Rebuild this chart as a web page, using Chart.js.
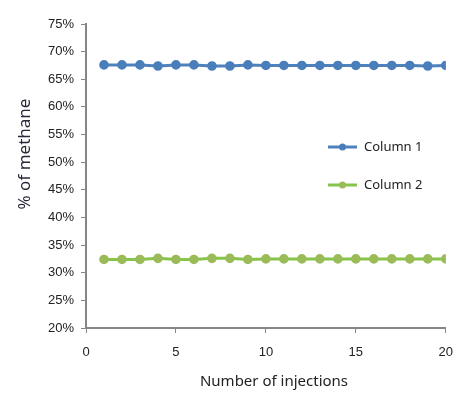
<!DOCTYPE html>
<html>
<head>
<meta charset="utf-8">
<script src="https://cdn.jsdelivr.net/npm/chart.js@4"></script>
<style>
  html, body { margin: 0; padding: 0; background: #fff; }
  #wrap { width: 465px; height: 393px; }
</style>
</head>
<body>
<div id="wrap"><canvas id="methaneChart"></canvas></div>
<script>
// DATA
const injections = [1,2,3,4,5,6,7,8,9,10,11,12,13,14,15,16,17,18,19,20];
const column1 = [67.6,67.6,67.6,67.4,67.6,67.6,67.4,67.4,67.6,67.5,67.5,67.5,67.5,67.5,67.5,67.5,67.5,67.5,67.4,67.5];
const column2 = [32.4,32.4,32.4,32.6,32.4,32.4,32.6,32.6,32.4,32.5,32.5,32.5,32.5,32.5,32.5,32.5,32.5,32.5,32.5,32.5];
const xTicks = [0,5,10,15,20];
const yTicks = [20,25,30,35,40,45,50,55,60,65,70,75];
const xTitle = 'Number of injections';
const yTitle = '% of methane';

const axisGray = '#868686';

// legend and axis titles drawn by hand, placed like the original
const extras = {
    id: 'extras',
    afterDraw(chart) {
        const c = chart.ctx;
        const rows = [147, 185];
        chart.data.datasets.forEach((ds, i) => {
            const y = rows[i];
            c.save();
            c.strokeStyle = ds.borderColor;
            c.lineWidth = 3;
            c.beginPath();
            c.moveTo(328, y);
            c.lineTo(357, y);
            c.stroke();
            c.fillStyle = ds.pointBackgroundColor;
            c.beginPath();
            c.arc(342.5, y, 3.5, 0, Math.PI * 2);
            c.fill();
            c.fillStyle = '#222';
            c.font = '13px "Noto Sans", sans-serif';
            c.textBaseline = 'middle';
            c.fillText(ds.label, 364, y);
            c.restore();
        });

        c.save();
        c.fillStyle = '#222';
        c.font = '15px "Noto Sans", sans-serif';
        c.textAlign = 'center';
        c.textBaseline = 'middle';
        c.fillText(xTitle, 274, 382);
        c.translate(25, 154);
        c.rotate(-Math.PI / 2);
        c.fillStyle = '#2a2838';
        c.font = '17px "Noto Sans", sans-serif';
        c.fillText(yTitle, 0, 0);
        c.restore();
    }
};

const ctx = document.getElementById('methaneChart');

new Chart(ctx, {
    type: 'line',
    data: {
        datasets: [
            {
                label: 'Column 1',
                data: injections.map((x, i) => ({x: x, y: column1[i]})),
                borderColor: '#4f81bd',
                pointBackgroundColor: '#4a7ebb',
                pointBorderColor: '#4a7ebb',
                borderWidth: 3,
                pointRadius: 3.3,
                tension: 0
            },
            {
                label: 'Column 2',
                data: injections.map((x, i) => ({x: x, y: column2[i]})),
                borderColor: '#86c44a',
                pointBackgroundColor: '#9bbb59',
                pointBorderColor: '#9bbb59',
                borderWidth: 3,
                pointRadius: 3.3,
                tension: 0
            }
        ]
    },
    options: {
        responsive: true,
        maintainAspectRatio: false,
        animation: false,
        layout: { padding: { top: 24, right: 15, left: 0, bottom: 0 } },
        plugins: {
            legend: { display: false },
            tooltip: { enabled: false }
        },
        scales: {
            x: {
                type: 'linear',
                min: 0,
                max: 20,
                afterBuildTicks: s => { s.ticks = xTicks.map(v => ({value: v})); },
                afterFit: s => { s.height = 65; },
                ticks: {
                    color: '#222',
                    font: { family: '"Liberation Sans Narrow", "Liberation Sans", sans-serif', size: 13 },
                    padding: 12,
                    maxRotation: 0
                },
                grid: { drawOnChartArea: false, tickLength: 5, color: axisGray, lineWidth: 1 },
                border: { color: axisGray, width: 2 }
            },
            y: {
                min: 20,
                max: 75,
                afterBuildTicks: s => { s.ticks = yTicks.map(v => ({value: v})); },
                afterFit: s => { s.width = 86; },
                ticks: {
                    color: '#222',
                    font: { family: '"Liberation Sans Narrow", "Liberation Sans", sans-serif', size: 13 },
                    padding: 7,
                    callback: v => v + '%'
                },
                grid: { drawOnChartArea: false, tickLength: 5, color: axisGray, lineWidth: 1 },
                border: { color: axisGray, width: 2 }
            }
        }
    },
    plugins: [extras]
});
</script>
</body>
</html>
